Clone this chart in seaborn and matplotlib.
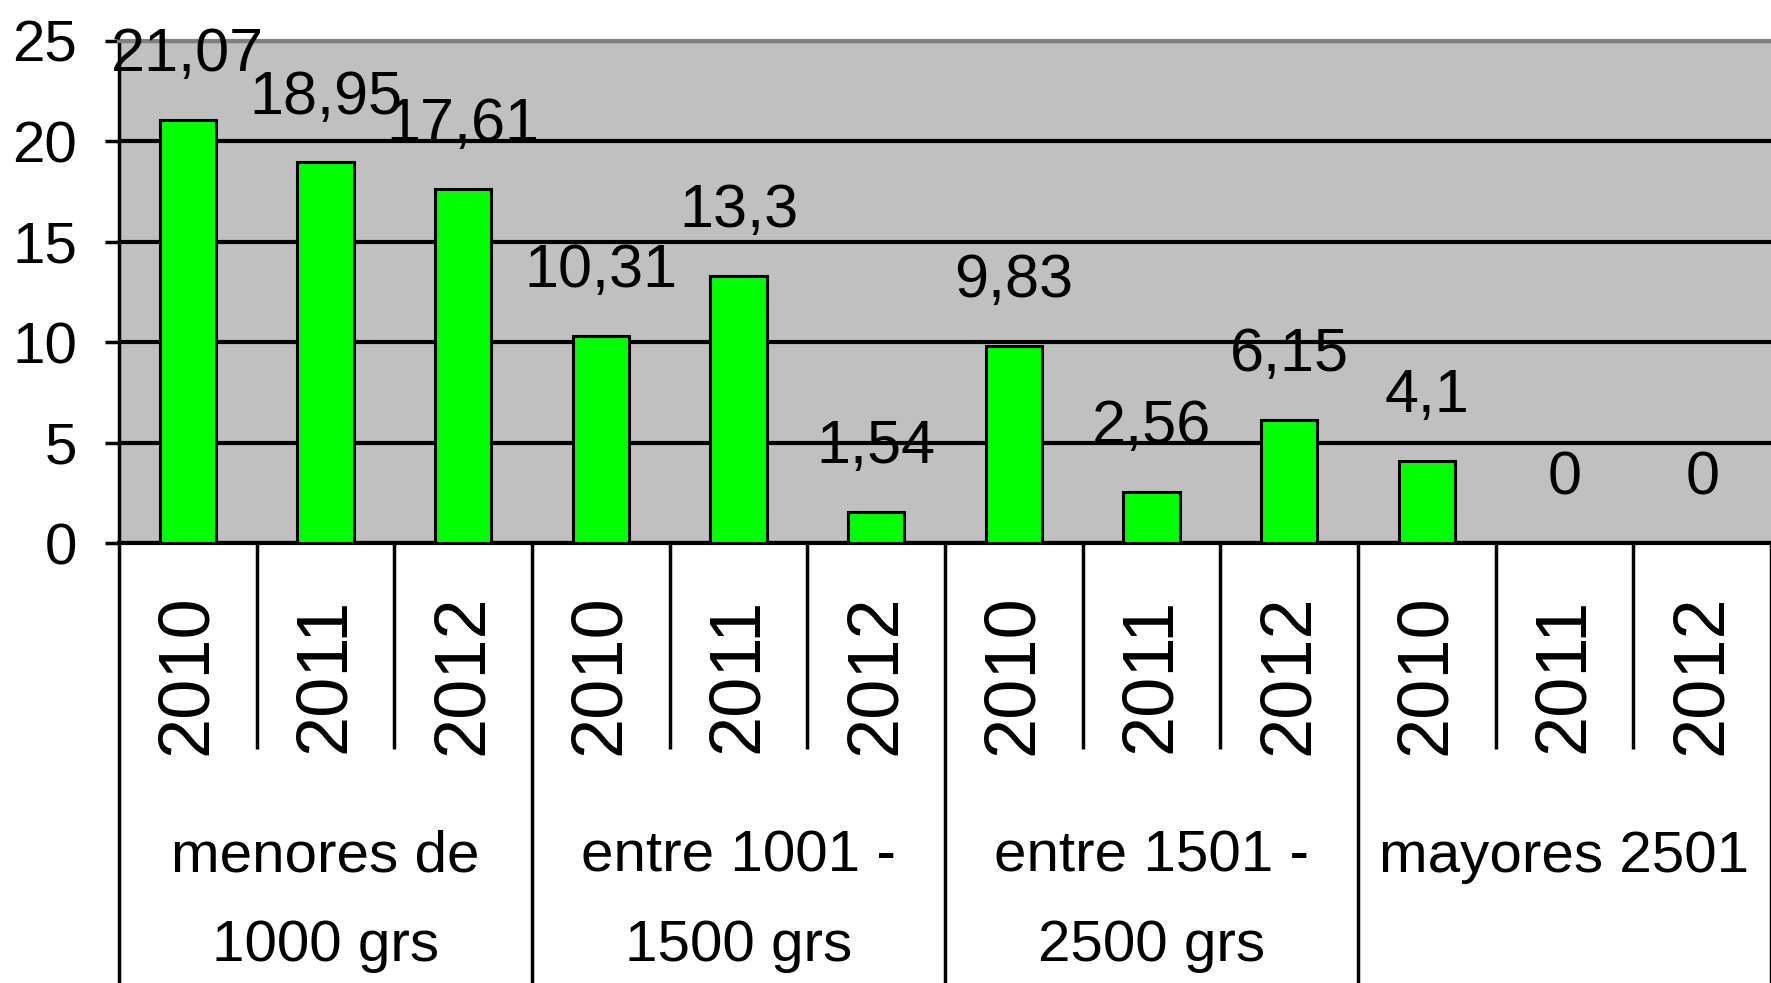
import matplotlib
matplotlib.use("Agg")
import matplotlib.pyplot as plt
import seaborn as sns
import pandas as pd

# data
groups = ["menores de\n1000 grs", "entre 1001 -\n1500 grs", "entre 1501 -\n2500 grs", "mayores 2501"]
years = ["2010", "2011", "2012"]
values = [21.07, 18.95, 17.61,
          10.31, 13.3, 1.54,
          9.83, 2.56, 6.15,
          4.1, 0, 0]
value_labels = ["21,07", "18,95", "17,61",
                "10,31", "13,3", "1,54",
                "9,83", "2,56", "6,15",
                "4,1", "0", "0"]
y_ticks = [0, 5, 10, 15, 20, 25]

sns.set_theme(style="white")
plt.rcParams["font.family"] = ["Liberation Sans", "DejaVu Sans"]
plt.rcParams["text.color"] = "black"
fsize = 42

df = pd.DataFrame({
    "cat": [f"{g}|{y}" for g in groups for y in years],
    "group": [g for g in groups for y in years],
    "year": [y for g in groups for y in years],
    "value": values,
    "label": value_labels,
})

fig = plt.figure(figsize=(17.71, 9.83), dpi=100)
ax = fig.add_axes([0.0672, 0.4476, 0.9328, 0.5107])
ax.set_facecolor("#C0C0C0")

sns.barplot(data=df, x="cat", y="value", ax=ax, color="#00FF00",
            width=0.41, edgecolor="black", linewidth=2.2, saturation=1, zorder=3)

ax.set_xlim(-0.5, 11.43)
ax.set_ylim(0, 25)
ax.set_xlabel("")
ax.set_ylabel("")

# gridlines
ax.set_yticks(y_ticks)
ax.set_yticklabels([str(t) for t in y_ticks], fontsize=fsize, color="black")
ax.yaxis.grid(True, color="black", linewidth=3, zorder=1)
ax.set_axisbelow(True)
ax.tick_params(axis="y", direction="out", length=10, width=2.5, color="black", pad=20, left=True)

# x separators
ax.set_xticks([-0.5, 2.5, 5.5, 8.5, 11.5])
ax.set_xticks([0.5, 1.5, 3.5, 4.5, 6.5, 7.5, 9.5, 10.5], minor=True)
ax.set_xticklabels([])
ax.tick_params(axis="x", which="major", direction="out", length=330, width=2.5, color="black", bottom=True)
ax.tick_params(axis="x", which="minor", direction="out", length=148, width=2.5, color="black", bottom=True)

ax.spines["right"].set_visible(False)
ax.spines["top"].set_color("#808080")
ax.spines["top"].set_linewidth(3)
ax.spines["left"].set_color("black")
ax.spines["left"].set_linewidth(2.5)
ax.spines["bottom"].set_color("black")
ax.spines["bottom"].set_linewidth(3)

# value labels
for i, (v, lab) in enumerate(zip(df["value"], df["label"])):
    ax.annotate(lab, xy=(i, v), xytext=(0, 35), textcoords="offset points",
                ha="center", va="baseline", fontsize=fsize + 2, color="black",
                zorder=5, annotation_clip=False)

# year labels
xt = ax.get_xaxis_transform()
for i, yr in enumerate(df["year"]):
    ax.text(i, -0.263, yr, transform=xt, rotation=90, ha="center", va="center",
            fontsize=52, color="black")

# group labels
for k, g in enumerate(groups):
    ax.text(3 * k + 1, -0.571, g, transform=xt, ha="center", va="top",
            fontsize=fsize, color="black", linespacing=1.85)

fig.savefig("out.png", dpi=100)
